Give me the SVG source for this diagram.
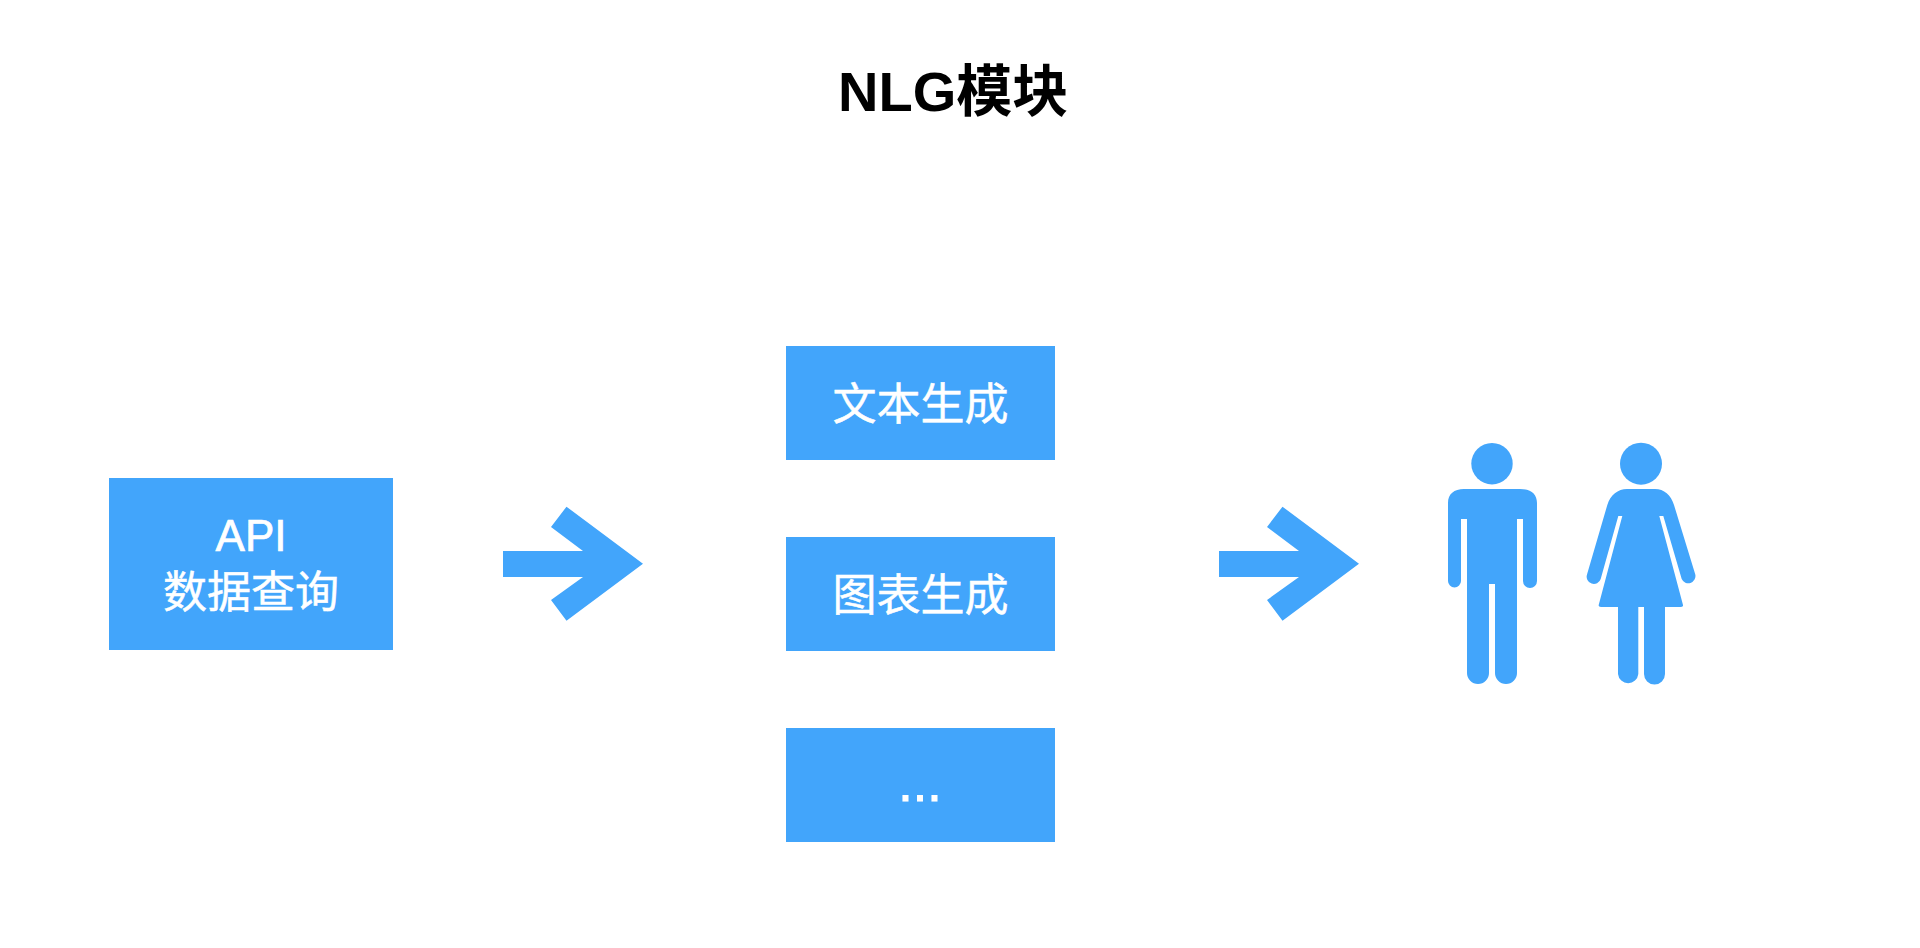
<svg xmlns="http://www.w3.org/2000/svg" width="1920" height="948" viewBox="0 0 1920 948">
<style>
.fill{fill:#42A5FB}
.label{fill:#fff;font-family:"Liberation Sans","Noto Sans CJK SC",sans-serif;font-size:44px;text-anchor:middle}
.latin{stroke:#fff;stroke-width:.7px}
.cjk{font-family:"Noto Sans CJK SC","Liberation Sans",sans-serif;stroke:#fff;stroke-width:.5px}
.dots{font-size:52px;stroke:#fff;stroke-width:1px}
.title{fill:#000;font-family:"Liberation Sans","Noto Sans CJK SC",sans-serif;font-size:56px;font-weight:700}
</style>
<defs>
<path id="arrow" class="fill" d="M503 551H583L551 527L566.500 506.700L643 563.700L566.500 620.700L551 600L583 577H503Z"/>
</defs>
<rect width="1920" height="948" fill="#fff"/>
<g id="title"><text class="title" x="838" y="111">NLG模块</text></g>
<g id="node-api">
<rect class="fill" x="109" y="478" width="284" height="172"/>
<text class="label latin" x="251" y="551">API</text>
<text class="label cjk" x="251" y="608">数据查询</text>
</g>
<g id="node-text">
<rect class="fill" x="786" y="346" width="269" height="114"/>
<text class="label cjk" x="920.500" y="420">文本生成</text>
</g>
<g id="node-chart">
<rect class="fill" x="786" y="537" width="269" height="114"/>
<text class="label cjk" x="920.500" y="611">图表生成</text>
</g>
<g id="node-more">
<rect class="fill" x="786" y="728" width="269" height="114"/>
<text class="label dots" x="920" y="801">...</text>
</g>
<g id="connectors">
<use href="#arrow"/>
<use href="#arrow" x="716"/>
</g>
<g id="node-man" class="fill">
<circle cx="1492" cy="463.700" r="20.700"/>
<path d="M1464 489H1520C1531 489 1537 494 1537 503V581A7 7 0 0 1 1523 581V519H1517V673A11 11 0 0 1 1495 673V584H1489V673A11 11 0 0 1 1467 673V519H1461V581A6.500 6.500 0 0 1 1448 581V503C1448 494 1454 489 1464 489Z"/>
</g>
<g id="node-woman" class="fill">
<circle cx="1641" cy="463.700" r="21"/>
<path d="M1627 489H1655C1664 489 1671 495 1674 505L1695.300 574.500A7.200 7.200 0 0 1 1681.700 579L1663.300 516H1659.300L1683 605Q1683.500 607 1681 607H1665V674A10.500 10.500 0 0 1 1644 674V607H1638.300V674A10.200 10.200 0 0 1 1618 674V607H1601Q1598.200 607 1598.700 605L1622.300 516H1618.300L1600.700 579A7.200 7.200 0 0 1 1587 574.500L1607.300 505C1610.300 495 1618 489 1627 489Z"/>
</g>
</svg>
